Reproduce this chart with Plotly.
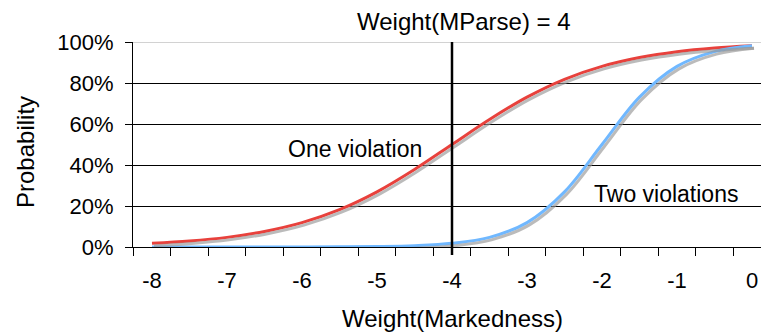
import plotly.graph_objects as go

# Weight of the markedness constraint (x) and the probability of each candidate
weights = [-8, -7.5, -7, -6.5, -6, -5.5, -5, -4.5, -4, -3.5, -3, -2.5, -2, -1.5, -1, -0.5, 0]
one_violation = [0.018, 0.029, 0.047, 0.076, 0.119, 0.182, 0.269, 0.378, 0.500,
                 0.622, 0.731, 0.818, 0.881, 0.924, 0.953, 0.971, 0.982]
two_violations = [0.000, 0.000, 0.000, 0.000, 0.0003, 0.0009, 0.0025, 0.0067, 0.018,
                  0.047, 0.119, 0.269, 0.500, 0.731, 0.881, 0.953, 0.982]

x_labels = [-8, -7, -6, -5, -4, -3, -2, -1, 0]
y_ticks = [0, 0.2, 0.4, 0.6, 0.8, 1.0]
y_labels = ["0%", "20%", "40%", "60%", "80%", "100%"]
mparse_weight = 4
marker_weight = -4

FONT = "Liberation Sans, Arial, sans-serif"
W, H = 761, 335
ML, MR, MT, MB = 133, 0, 42, 88
PX_PER_X = 75.0          # pixels per unit of weight
X0 = -8 - 19 / PX_PER_X  # left edge of the plotting area
X1 = X0 + (W - ML - MR) / PX_PER_X
PLOT_H = H - MT - MB

# drop shadow: same curves drawn on hidden axes shifted a couple of pixels
sdx = 2.0 / PX_PER_X
sdy = 2.5 / PLOT_H

fig = go.Figure()
for ys in (one_violation, two_violations):
    fig.add_trace(go.Scatter(x=weights, y=ys, mode="lines", xaxis="x2", yaxis="y2",
                             line=dict(color="rgba(150,150,150,0.65)", width=3, shape="spline"),
                             hoverinfo="skip", showlegend=False))
fig.add_trace(go.Scatter(x=weights, y=one_violation, mode="lines",
                         line=dict(color="#e8413c", width=3, shape="spline"),
                         name="One violation", showlegend=False))
fig.add_trace(go.Scatter(x=weights, y=two_violations, mode="lines",
                         line=dict(color="#70b8ff", width=3, shape="spline"),
                         name="Two violations", showlegend=False))

minor_x = [X0 + 0.5 * k for k in range(18)]

fig.update_layout(
    width=W, height=H,
    margin=dict(l=ML, r=MR, t=MT, b=MB, pad=0),
    paper_bgcolor="white", plot_bgcolor="white",
    font=dict(family=FONT, color="black", size=22),
    xaxis=dict(range=[X0, X1], tickvals=x_labels, ticktext=[str(v) for v in x_labels],
               ticks="outside", ticklen=14, tickcolor="rgba(0,0,0,0)",
               showgrid=False, zeroline=False, showline=True,
               linecolor="black", linewidth=1, tickfont=dict(size=22),
               minor=dict(tickvals=minor_x, ticks="outside", ticklen=8,
                          tickcolor="black", tickwidth=1, showgrid=False)),
    yaxis=dict(range=[0, 1], tickvals=y_ticks, ticktext=y_labels,
               ticks="outside", ticklen=7, tickcolor="black", tickwidth=1,
               showgrid=False, zeroline=False, showline=True,
               linecolor="black", linewidth=1, ticklabelstandoff=7,
               tickfont=dict(size=22),
               minor=dict(tickvals=y_ticks[1:-1], ticks="", showgrid=True,
                          gridcolor="black", gridwidth=1)),
    xaxis2=dict(range=[X0 - sdx, X1 - sdx], overlaying="x", visible=False),
    yaxis2=dict(range=[0 + sdy, 1 + sdy], overlaying="y", visible=False),
)

# grey top border of the plotting area
fig.add_shape(type="line", xref="paper", yref="y", x0=0, x1=1, y0=y_ticks[-1], y1=y_ticks[-1],
              line=dict(color="#a6a6a6", width=1), layer="below")

# reference line at the chosen markedness weight
fig.add_shape(type="line", xref="x", yref="paper", x0=marker_weight, x1=marker_weight,
              y0=-8 / PLOT_H, y1=1, line=dict(color="black", width=2.5), layer="above")

fig.add_annotation(text=f"Weight(MParse) = {mparse_weight}", xref="paper", yref="paper",
                   x=(464 - ML) / (W - ML), y=1 + 20 / PLOT_H, showarrow=False,
                   font=dict(size=24), xanchor="center", yanchor="middle")
fig.add_annotation(text="Weight(Markedness)", xref="paper", yref="paper",
                   x=(452 - ML) / (W - ML), y=-(318 - MT - PLOT_H) / PLOT_H, showarrow=False,
                   font=dict(size=24), xanchor="center", yanchor="middle")
fig.add_annotation(text="Probability", xref="paper", yref="paper",
                   x=(25 - ML) / (W - ML), y=1 - (152 - MT) / PLOT_H, showarrow=False,
                   font=dict(size=24), textangle=-90, xanchor="center", yanchor="middle")
fig.add_annotation(text="One violation", xref="x", yref="y", x=-5.29, y=0.48,
                   showarrow=False, font=dict(size=23), xanchor="center", yanchor="middle")
fig.add_annotation(text="Two violations", xref="x", yref="y", x=-1.15, y=0.26,
                   showarrow=False, font=dict(size=23), xanchor="center", yanchor="middle")

fig.write_html("out.html")
